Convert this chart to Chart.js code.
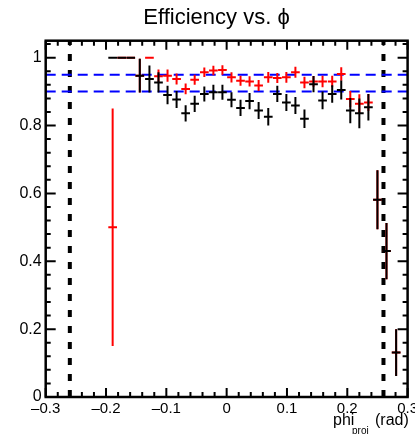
<!DOCTYPE html>
<html>
<head>
<meta charset="utf-8">
<script src="https://cdn.jsdelivr.net/npm/chart.js@4"></script>
<style>
  html, body { margin: 0; padding: 0; background: #fff; }
</style>
</head>
<body>
<canvas id="eff-chart" width="415" height="434"></canvas>
<script>
// bin centres in phi_proj (rad)
const phiBins = [-0.189, -0.174, -0.159, -0.144, -0.128, -0.113, -0.098, -0.083,
  -0.068, -0.053, -0.037, -0.022, -0.007, 0.008, 0.023, 0.038, 0.053, 0.069,
  0.084, 0.099, 0.114, 0.129, 0.144, 0.159, 0.175, 0.190, 0.205, 0.220, 0.235,
  0.250, 0.265, 0.281];

// black points
const effAll = [1.0, 1.0, 1.0, 0.947, 0.937, 0.927, 0.890, 0.877, 0.836, 0.864,
  0.893, 0.898, 0.898, 0.876, 0.852, 0.872, 0.844, 0.826, 0.893, 0.868, 0.859,
  0.820, 0.922, 0.874, 0.893, 0.905, 0.844, 0.836, 0.854, 0.581, 0.430, 0.131];
const errAll = [0, 0, 0, 0.050, 0.040, 0.030, 0.027, 0.025, 0.024, 0.024, 0.022,
  0.022, 0.022, 0.022, 0.024, 0.024, 0.025, 0.026, 0.024, 0.025, 0.025, 0.027,
  0.024, 0.026, 0.026, 0.028, 0.037, 0.044, 0.039, 0.087, 0.083, 0.069];

// red points
const effSel = [0.5, 1.0, 1.0, 0.947, 1.0, 0.945, 0.947, 0.937, 0.908, 0.935,
  0.957, 0.962, 0.964, 0.942, 0.932, 0.930, 0.918, 0.942, 0.940, 0.942, 0.957,
  0.927, 0.930, 0.930, 0.930, 0.952, 0.878, 0.864, 0.868, 0.581, 0.430, 0.131];
const errSel = [0.35, 0, 0, 0.050, 0, 0.020, 0.018, 0.016, 0.016, 0.015, 0.014,
  0.014, 0.014, 0.015, 0.015, 0.015, 0.016, 0.016, 0.015, 0.016, 0.016, 0.017,
  0.016, 0.017, 0.017, 0.020, 0.024, 0.028, 0.025, 0.087, 0.083, 0.069];

const cutLines = [-0.26, 0.26];
const refLevels = [0.95, 0.90];
const xLabelTicks = [-0.3, -0.2, -0.1, 0, 0.1, 0.2, 0.3];
const yLabelTicks = [0, 0.2, 0.4, 0.6, 0.8, 1];
const binHalfWidth = 0.0072;

function isLabelTick(v, list) {
  return list.some(t => Math.abs(t - v) < 1e-6);
}

function fmt(v) {
  const s = String(Number(Math.abs(v).toFixed(1)));
  return v < -1e-9 ? '\u2013' + s : s;
}

// error bars as line segments separated by gaps
function errorBarPoints(xs, ys, errs) {
  const pts = [];
  xs.forEach((x, i) => {
    pts.push({ x: x, y: ys[i] - errs[i] }, { x: x, y: ys[i] + errs[i] }, { x: x, y: null });
    pts.push({ x: x - binHalfWidth, y: ys[i] }, { x: x + binHalfWidth, y: ys[i] }, { x: x, y: null });
  });
  return pts;
}

const cutPoints = [];
cutLines.forEach(c => cutPoints.push({ x: c, y: 0 }, { x: c, y: 1.05 }, { x: c, y: null }));
const refPoints = [];
refLevels.forEach(r => refPoints.push({ x: -0.3, y: r }, { x: 0.3, y: r }, { x: 0.3, y: null }));

const rootFrame = {
  id: 'rootFrame',
  afterDraw(chart) {
    const { ctx, chartArea: a, scales: { x, y } } = chart;
    ctx.save();
    ctx.strokeStyle = '#000';
    ctx.lineWidth = 2;
    ctx.beginPath();
    x.ticks.forEach(t => {
      const px = x.getPixelForValue(t.value);
      const len = t.label ? 9 : 5;
      ctx.moveTo(px, a.bottom); ctx.lineTo(px, a.bottom - len);
      ctx.moveTo(px, a.top); ctx.lineTo(px, a.top + len);
    });
    y.ticks.forEach(t => {
      const py = y.getPixelForValue(t.value);
      const len = t.label ? 10 : 5;
      ctx.moveTo(a.left, py); ctx.lineTo(a.left + len, py);
      ctx.moveTo(a.right, py); ctx.lineTo(a.right - len, py);
    });
    ctx.stroke();
    ctx.lineWidth = 2.5;
    ctx.strokeRect(a.left, a.top, a.right - a.left, a.bottom - a.top);

    ctx.fillStyle = '#000';
    ctx.textBaseline = 'alphabetic';
    ctx.textAlign = 'center';
    ctx.font = '22px "Liberation Sans", Arial, sans-serif';
    ctx.fillText('Efficiency vs. \u03D5', 216.5, 23.5);

    ctx.textAlign = 'left';
    ctx.font = '16px "Liberation Sans", Arial, sans-serif';
    ctx.fillText('phi', 333, 425);
    ctx.fillText('(rad)', 375, 425);
    ctx.font = '10px "Liberation Sans", Arial, sans-serif';
    ctx.fillText('proj', 352, 434);
    ctx.restore();
  }
};

new Chart(document.getElementById('eff-chart'), {
  type: 'scatter',
  data: {
    datasets: [
      {
        label: 'all',
        data: errorBarPoints(phiBins, effAll, errAll),
        showLine: true, spanGaps: false, pointRadius: 0,
        borderColor: '#000', borderWidth: 2
      },
      {
        label: 'selected',
        data: errorBarPoints(phiBins, effSel, errSel),
        showLine: true, spanGaps: false, pointRadius: 0,
        borderColor: '#ff0000', borderWidth: 2
      },
      {
        label: 'ref',
        data: refPoints,
        showLine: true, spanGaps: false, pointRadius: 0,
        borderColor: '#0000ff', borderWidth: 2, borderDash: [10, 6]
      },
      {
        label: 'cuts',
        data: cutPoints,
        showLine: true, spanGaps: false, pointRadius: 0,
        borderColor: '#000', borderWidth: 4, borderDash: [7, 9]
      }
    ]
  },
  options: {
    responsive: false,
    animation: false,
    layout: { padding: { left: 0, right: 7.4, top: 40.7, bottom: 0 } },
    plugins: { legend: { display: false }, tooltip: { enabled: false } },
    scales: {
      x: {
        type: 'linear', position: 'bottom', min: -0.3, max: 0.3,
        grid: { display: false, drawTicks: false },
        border: { display: false },
        ticks: {
          stepSize: 0.02, autoSkip: false, maxRotation: 0, includeBounds: false,
          padding: 3, color: '#000',
          font: { family: '"Liberation Sans", Arial, sans-serif', size: 15 },
          callback: v => isLabelTick(v, xLabelTicks) ? fmt(v) : ''
        },
        afterFit(s) { s.height = 37; s.paddingLeft = 0; s.paddingRight = 0; }
      },
      y: {
        type: 'linear', min: 0, max: 1.05,
        grid: { display: false, drawTicks: false },
        border: { display: false },
        ticks: {
          stepSize: 0.04, autoSkip: false, includeBounds: false,
          padding: 4, color: '#000',
          font: { family: '"Liberation Sans", Arial, sans-serif', size: 16 },
          callback: v => isLabelTick(v, yLabelTicks) ? fmt(v) : ''
        },
        afterFit(s) { s.width = 45.7; s.paddingTop = 0; s.paddingBottom = 0; }
      }
    }
  },
  plugins: [rootFrame]
});
</script>
</body>
</html>
